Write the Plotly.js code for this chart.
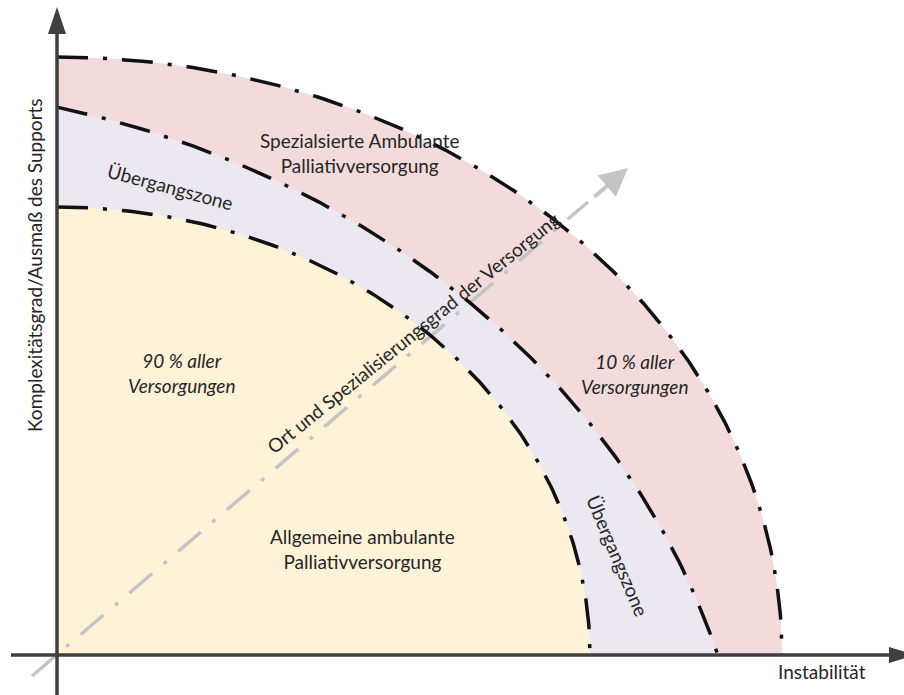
<!DOCTYPE html>
<html>
<head>
<meta charset="utf-8">
<script src="https://cdn.plot.ly/plotly-3.0.1.min.js"></script>
<style>html,body{margin:0;padding:0;background:#fff;}#chart{width:904px;height:695px;}</style>
</head>
<body>
<div id="chart"></div>
<script>
// Zones (inner to outer). Each boundary is a quarter of an ellipse: centre and radii
const zoneNames = ['Allgemeine ambulante Palliativversorgung', 'Übergangszone', 'Spezialisierte Ambulante Palliativversorgung'];
const zoneCenterX = [0, -220, 0];
const zoneCenterY = [0, -220, 0];
const zoneRadiusX = [533, 917, 725];
const zoneRadiusY = [448, 791, 598];
const zoneColors = ['#fef3d8', '#ebe8f1', '#f2dbda'];

// Diagonal axis "Ort und Spezialisierungsgrad der Versorgung"
const diagX = [-25, 531];
const diagY = [-21, 453];
const diagArrowTip = [571, 487];

const FONT = 'Lato, "Open Sans", sans-serif';
const TXT = '#262626';
const FS = 19;

function arcPoints(k, closeToOrigin) {
  const cx = zoneCenterX[k], cy = zoneCenterY[k], a = zoneRadiusX[k], b = zoneRadiusY[k];
  const t0 = Math.asin(Math.max(-1, Math.min(1, -cy / b)));   // where arc meets y = 0
  const t1 = Math.acos(Math.max(-1, Math.min(1, -cx / a)));   // where arc meets x = 0
  const xs = [], ys = [];
  if (closeToOrigin) { xs.push(0); ys.push(0); }
  const n = 200;
  for (let i = 0; i <= n; i++) {
    const t = t0 + (t1 - t0) * i / n;
    xs.push(cx + a * Math.cos(t));
    ys.push(cy + b * Math.sin(t));
  }
  if (closeToOrigin) { xs.push(0); ys.push(0); }
  return {xs, ys};
}

const traces = [];
for (let k = zoneNames.length - 1; k >= 0; k--) {
  const p = arcPoints(k, true);
  traces.push({x: p.xs, y: p.ys, type: 'scatter', mode: 'lines', fill: 'toself',
    fillcolor: zoneColors[k], line: {width: 0}, hoverinfo: 'skip', name: zoneNames[k]});
}
traces.push({x: diagX, y: diagY, type: 'scatter', mode: 'lines',
  line: {color: '#c4c4c4', width: 3.5, dash: '30px,15px,4px,15px'}, hoverinfo: 'skip'});
for (let k = 0; k < zoneNames.length; k++) {
  const p = arcPoints(k, false);
  traces.push({x: p.xs.slice().reverse(), y: p.ys.slice().reverse(), type: 'scatter', mode: 'lines',
    line: {color: '#111', width: 3.5, dash: '31px,15px,4px,15px'}, hoverinfo: 'skip'});
}

const AX = '#3f3f3f';
const shapes = [
  {type: 'line', x0: 0, y0: -42, x1: 0, y1: 624, line: {color: AX, width: 3.5}},
  {type: 'line', x0: -46, y0: 0, x1: 836, y1: 0, line: {color: AX, width: 3.5}},
  {type: 'path', path: 'M -9,621 L 0,648 L 9,621 Z', fillcolor: AX, line: {width: 0}},
  {type: 'path', path: 'M 832,-8 L 858,0 L 832,8 Z', fillcolor: AX, line: {width: 0}}
];

const ann = (x, y, text, opts) => Object.assign({x, y, xref: 'x', yref: 'y', text, showarrow: false,
  font: {family: FONT, size: FS, color: TXT}}, opts || {});

const annotations = [
  ann(-23, 390, 'Komplexitätsgrad/Ausmaß des Supports', {textangle: -90}),
  ann(765, -16, 'Instabilität'),
  ann(303, 502, 'Spezialsierte Ambulante<br>Palliativversorgung'),
  ann(113, 469, 'Übergangszone', {textangle: 15}),
  ann(561, 100, 'Übergangszone', {textangle: 67}),
  ann(124, 282, '<i>90 % aller<br>Versorgungen</i>'),
  ann(577, 281, '<i>10 % aller<br>Versorgungen</i>'),
  ann(305, 106, 'Allgemeine ambulante<br>Palliativversorgung'),
  ann(356, 323, 'Ort und Spezialisierungsgrad der Versorgung', {textangle: -39}),
  {x: diagArrowTip[0], y: diagArrowTip[1], ax: 536, ay: 457, xref: 'x', yref: 'y', axref: 'x', ayref: 'y', text: '',
   showarrow: true, arrowhead: 2, arrowsize: 1.4, arrowwidth: 4, arrowcolor: '#c4c4c4'}
];

const layout = {
  width: 904, height: 695,
  margin: {l: 0, r: 0, t: 0, b: 0},
  paper_bgcolor: '#fff', plot_bgcolor: '#fff',
  showlegend: false,
  xaxis: {range: [-57, 847], visible: false, fixedrange: true},
  yaxis: {range: [-40, 655], visible: false, fixedrange: true},
  shapes, annotations
};

Plotly.newPlot('chart', traces, layout, {displayModeBar: false, staticPlot: true});
</script>
</body>
</html>
